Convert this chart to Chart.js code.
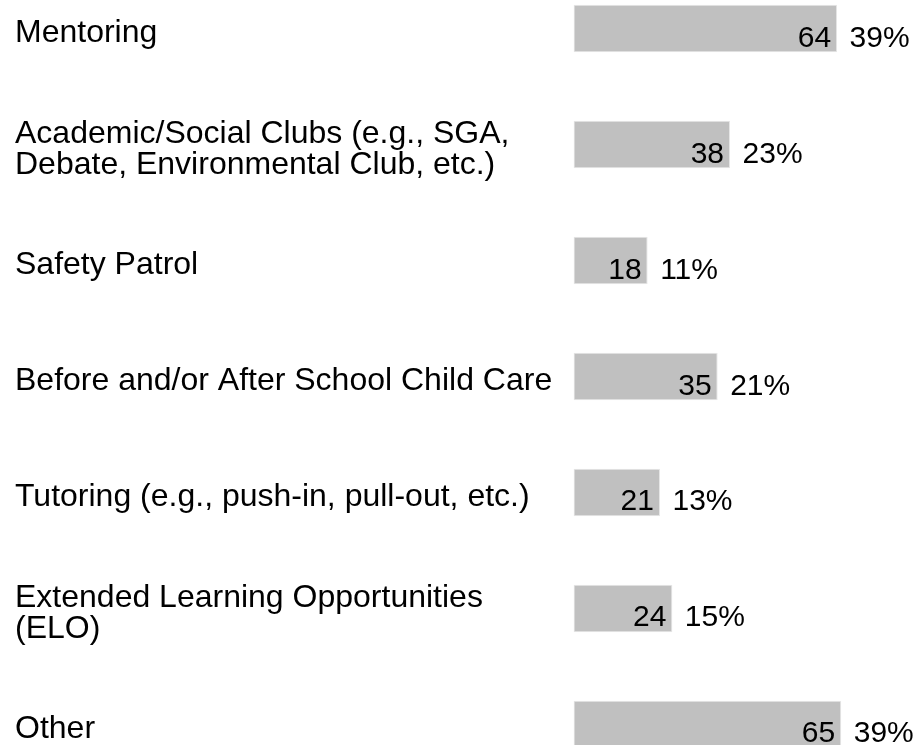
<!DOCTYPE html>
<html>
<head>
<meta charset="utf-8">
<script src="https://cdn.jsdelivr.net/npm/chart.js@4.4.1/dist/chart.umd.min.js"></script>
<style>
  html, body { margin: 0; padding: 0; background: #ffffff; overflow: hidden; width: 921px; height: 745px; }
  #wrap { position: absolute; left: 0; top: -45px; width: 921px; height: 843px; }
</style>
</head>
<body>
<div id="wrap"><canvas id="c"></canvas></div>
<script>
const categories = [
  "Mentoring",
  ["Academic/Social Clubs (e.g., SGA,", "Debate, Environmental Club, etc.)"],
  "Safety Patrol",
  "Before and/or After School Child Care",
  "Tutoring (e.g., push-in, pull-out, etc.)",
  ["Extended Learning Opportunities", "(ELO)"],
  "Other"
];
const counts = [64, 38, 18, 35, 21, 24, 65];
const percents = ["39%", "23%", "11%", "21%", "13%", "15%", "39%"];
const axisMax = 80;

const FONT = "'Liberation Sans', Arial, Helvetica, sans-serif";

const barLabels = {
  id: 'barLabels',
  afterDatasetsDraw(chart) {
    const ctx = chart.ctx;
    const meta = chart.getDatasetMeta(0);
    ctx.save();
    ctx.font = "30px " + FONT;
    ctx.fillStyle = "#000000";
    ctx.textBaseline = "alphabetic";
    meta.data.forEach((bar, i) => {
      const yb = bar.y + 18;
      ctx.textAlign = "right";
      ctx.fillText(String(counts[i]), bar.x - 6, yb);
      ctx.textAlign = "left";
      ctx.fillText(percents[i], bar.x + 12.5, yb);
    });
    ctx.restore();
  }
};

new Chart(document.getElementById('c'), {
  type: 'bar',
  data: {
    labels: categories,
    datasets: [{
      data: counts,
      backgroundColor: '#c0c0c0',
      borderColor: '#e6e6e6',
      borderWidth: 1,
      borderSkipped: false,
      barPercentage: 0.41,
      categoryPercentage: 1.0
    }]
  },
  options: {
    indexAxis: 'y',
    responsive: true,
    maintainAspectRatio: false,
    animation: false,
    devicePixelRatio: 1,
    layout: { padding: { left: 15, right: 18, top: 0, bottom: 0 } },
    plugins: { legend: { display: false }, tooltip: { enabled: false } },
    scales: {
      x: {
        display: false,
        min: 0,
        max: axisMax
      },
      y: {
        afterFit(scale) { scale.width = 558.5; },
        grid: { display: false, drawTicks: false },
        border: { display: false },
        ticks: {
          crossAlign: 'far',
          color: '#000000',
          padding: 0,
          labelOffset: 5,
          font: { family: FONT, size: 32, lineHeight: 0.97 }
        }
      }
    }
  },
  plugins: [barLabels]
});
</script>
</body>
</html>
